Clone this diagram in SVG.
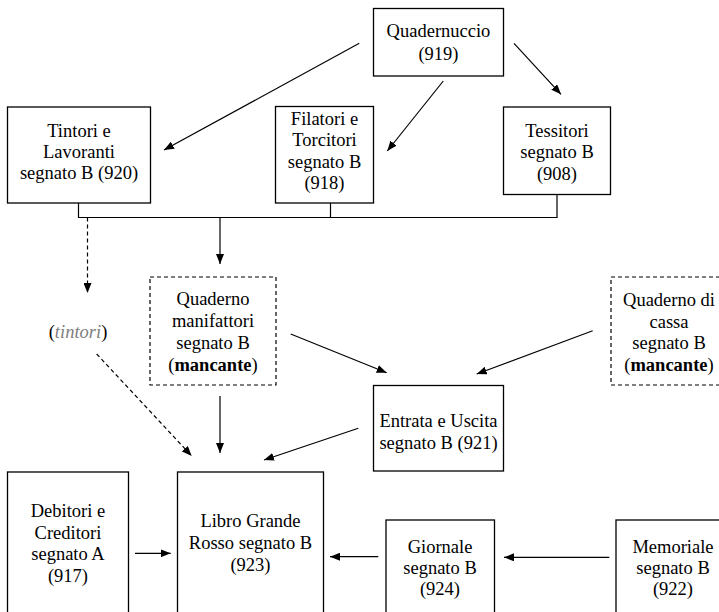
<svg xmlns="http://www.w3.org/2000/svg" width="719" height="612" viewBox="0 0 719 612" font-family="Liberation Serif, Times New Roman, Times, DejaVu Serif, serif">
<style>
  .box { fill: #ffffff; stroke: #000000; stroke-width: 1.3; }
  .dbox { fill: #ffffff; stroke: #000000; stroke-width: 1.2; stroke-dasharray: 4 3; }
  text { font-family: "Liberation Serif", "Times New Roman", Times, "DejaVu Serif", serif; font-size: 18.5px; fill: #000000; text-anchor: middle; }
  .b { font-weight: bold; }
  .gi { font-style: italic; fill: #808080; }
  .c { fill: none; stroke: #000000; stroke-width: 1.2; }
  .ca { fill: none; stroke: #000000; stroke-width: 1.2; marker-end: url(#ah); }
  .cd { fill: none; stroke: #000000; stroke-width: 1.2; stroke-dasharray: 4 3; marker-end: url(#ah); }
</style>
<defs>
  <marker id="ah" viewBox="0 0 10 8" refX="10" refY="4" markerWidth="10" markerHeight="8" markerUnits="userSpaceOnUse" orient="auto">
    <path d="M0,0 L10,4 L0,8 z" fill="#000000" stroke="none"/>
  </marker>
</defs>
<rect width="719" height="612" fill="#ffffff"/>

<g id="connectors">
  <line class="ca" x1="359.3" y1="43.3" x2="164" y2="150"/>
  <line class="ca" x1="443.3" y1="81" x2="387.3" y2="151"/>
  <line class="ca" x1="514" y1="43.3" x2="561" y2="94.3"/>
  <polyline class="c" points="78.5,203 78.5,217.5 557,217.5 557,194.5"/>
  <line class="c" x1="330.5" y1="203" x2="330.5" y2="217.5"/>
  <line class="ca" x1="220" y1="217.5" x2="220" y2="264"/>
  <line class="cd" x1="87.5" y1="217.5" x2="87.5" y2="293"/>
  <line class="ca" x1="220" y1="396" x2="220" y2="453"/>
  <line class="cd" x1="96.7" y1="354" x2="191.7" y2="456"/>
  <line class="ca" x1="290.7" y1="334" x2="386.7" y2="372.7"/>
  <line class="ca" x1="592.7" y1="330.7" x2="476.7" y2="374"/>
  <line class="ca" x1="358.3" y1="428.3" x2="264" y2="460"/>
  <line class="ca" x1="135" y1="553.3" x2="170.7" y2="553.3"/>
  <line class="ca" x1="378.3" y1="556.7" x2="330" y2="556.7"/>
  <line class="ca" x1="609.3" y1="557.3" x2="504" y2="557.3"/>
</g>

<g id="quadernuccio">
  <rect class="box" x="373.5" y="8.5" width="130" height="67.5"/>
  <text x="438.5" y="37">Quadernuccio</text>
  <text x="438.5" y="59.5">(919)</text>
</g>

<g id="tintori-lavoranti">
  <rect class="box" x="7.5" y="107" width="143" height="96"/>
  <text x="79" y="136.5">Tintori e</text>
  <text x="79" y="157.5">Lavoranti</text>
  <text x="79" y="179">segnato B (920)</text>
</g>

<g id="filatori-torcitori">
  <rect class="box" x="275.5" y="106.5" width="98" height="96.5"/>
  <text x="324.5" y="125">Filatori e</text>
  <text x="324.5" y="146.3">Torcitori</text>
  <text x="324.5" y="167.6">segnato B</text>
  <text x="324.5" y="189">(918)</text>
</g>

<g id="tessitori">
  <rect class="box" x="503.5" y="107" width="107" height="87.5"/>
  <text x="557" y="136.5">Tessitori</text>
  <text x="557" y="158">segnato B</text>
  <text x="557" y="179.5">(908)</text>
</g>

<g id="tintori-label">
  <text x="78" y="338">(<tspan class="gi">tintori</tspan>)</text>
</g>

<g id="quaderno-manifattori">
  <rect class="dbox" x="150" y="277" width="126" height="108"/>
  <text x="213" y="305">Quaderno</text>
  <text x="213" y="327">manifattori</text>
  <text x="213" y="349">segnato B</text>
  <text x="213" y="371">(<tspan class="b">mancante</tspan>)</text>
</g>

<g id="quaderno-cassa">
  <rect class="dbox" x="611" y="277" width="116" height="108"/>
  <text x="669" y="305.5">Quaderno di</text>
  <text x="669" y="327.5">cassa</text>
  <text x="669" y="349">segnato B</text>
  <text x="669" y="371">(<tspan class="b">mancante</tspan>)</text>
</g>

<g id="entrata-uscita">
  <rect class="box" x="373.5" y="385.5" width="130" height="85.5"/>
  <text x="438.5" y="427">Entrata e Uscita</text>
  <text x="438.5" y="449">segnato B (921)</text>
</g>

<g id="debitori-creditori">
  <rect class="box" x="7.5" y="472" width="121" height="150"/>
  <text x="68" y="517">Debitori e</text>
  <text x="68" y="538.5">Creditori</text>
  <text x="68" y="560">segnato A</text>
  <text x="68" y="581.5">(917)</text>
</g>

<g id="libro-grande">
  <rect class="box" x="177.5" y="472" width="146" height="150"/>
  <text x="250.5" y="527">Libro Grande</text>
  <text x="250.5" y="549">Rosso segnato B</text>
  <text x="250.5" y="570.5">(923)</text>
</g>

<g id="giornale">
  <rect class="box" x="386" y="520" width="108.5" height="100"/>
  <text x="440" y="553">Giornale</text>
  <text x="440" y="574">segnato B</text>
  <text x="440" y="595">(924)</text>
</g>

<g id="memoriale">
  <rect class="box" x="616" y="520" width="115" height="100"/>
  <text x="673" y="553">Memoriale</text>
  <text x="673" y="574">segnato B</text>
  <text x="673" y="595">(922)</text>
</g>
</svg>
